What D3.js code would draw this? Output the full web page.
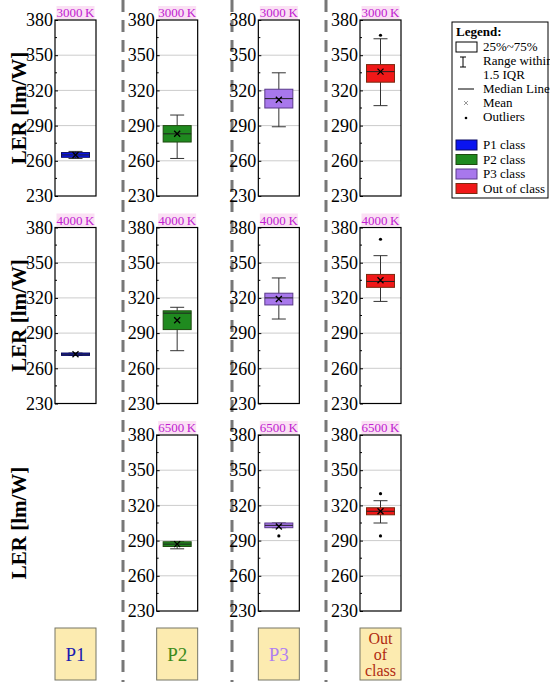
<!DOCTYPE html>
<html><head><meta charset="utf-8">
<script src="https://cdn.jsdelivr.net/npm/d3@7"></script>
<style>body{margin:0;background:#fff}svg text{font-family:"Liberation Serif","Times New Roman","DejaVu Serif",serif !important}</style>
</head><body><svg width="550" height="682"></svg>
<script>
var classes = ['P1', 'P2', 'P3', 'Out of class'];
var temps = ['3000 K', '4000 K', '6500 K'];
var yTicks = [230, 260, 290, 320, 350, 380];
var fillColors = ['#0a14f0', '#1f8a1f', '#a878ec', '#f01818'];
var edgeColors = ['#0a0a60', '#1f4a10', '#5a3a8a', '#7a2a10'];
var labelColors = ['#1a1ab0', '#3a8a1a', '#b080f0', '#b02a10'];

// [temp][class] = [whiskerLow, q1, median, q3, whiskerHigh, mean] or null
var stats = [
  [[262, 263, 265, 267, 268, 265], [262, 276, 283, 290, 299, 283], [289, 305, 313, 321, 335, 312], [307, 327, 336, 342, 364, 336]],
  [[271, 271, 272, 273, 273, 272], [275, 293, 307, 309, 312, 301], [302, 314, 320, 324, 337, 319], [317, 329, 334, 340, 356, 335]],
  [null, [283, 285, 287, 289, 289, 287], [301, 301, 303, 305, 305, 302], [305, 312, 315, 318, 324, 315]]
];
var outliers = [
  [[], [], [], [367]],
  [[], [], [], [370]],
  [[], [], [294], [330, 294]]
];

var svg = d3.select('svg');
var colX = d3.scalePoint().domain(classes).range([55, 360]);
var rowTop = d3.scalePoint().domain(temps).range([20, 435]);
var panelW = 41, panelH = 176;

// dashed separators
[123, 232, 326].forEach(function (x) {
  svg.append('line').attr('x1', x).attr('x2', x).attr('y1', 0).attr('y2', 682)
    .attr('stroke', '#777').attr('stroke-width', 3).attr('stroke-dasharray', '12,8');
});

temps.forEach(function (t, ti) {
  var top = rowTop(t);
  var y = d3.scaleLinear().domain([230, 380]).range([top + panelH, top]);
  svg.append('text').attr('transform', 'translate(26,' + (top + panelH / 2) + ') rotate(-90)')
    .attr('text-anchor', 'middle').attr('font-size', 21).attr('font-weight', 'bold').text('LER [lm/W]');
  classes.forEach(function (c, ci) {
    var s = stats[ti][ci];
    if (!s) return;
    var x0 = colX(c), cx = x0 + panelW / 2;
    var g = svg.append('g');
    g.selectAll('.grid').data([260, 290, 320, 350]).enter().append('line')
      .attr('x1', x0).attr('x2', x0 + panelW).attr('y1', y).attr('y2', y)
      .attr('stroke', '#ccc').attr('stroke-width', 1);
    g.append('g').attr('transform', 'translate(' + x0 + ',0)')
      .call(d3.axisLeft(y).tickValues(yTicks).tickSize(-3).tickPadding(2))
      .call(function (a) {
        a.select('.domain').remove();
        a.selectAll('text').attr('font-size', 18);
      });
    g.selectAll('.minor').data([245, 275, 305, 335, 365]).enter().append('line')
      .attr('x1', x0).attr('x2', x0 + 2).attr('y1', y).attr('y2', y).attr('stroke', '#000');
    g.append('rect').attr('x', x0).attr('y', top).attr('width', panelW).attr('height', panelH)
      .attr('fill', 'none').attr('stroke', '#000').attr('stroke-width', 1.2);
    g.append('rect').attr('x', cx - 19).attr('y', top - 14).attr('width', 38).attr('height', 13).attr('fill', '#fbe0f4');
    g.append('text').attr('x', cx).attr('y', top - 3).attr('text-anchor', 'middle')
      .attr('font-size', 13).attr('fill', '#c020d0').text(t.replace(' ', '\u2009'));
    var bw = 28;
    g.append('line').attr('x1', cx).attr('x2', cx).attr('y1', y(s[0])).attr('y2', y(s[4])).attr('stroke', '#333');
    [s[0], s[4]].forEach(function (v) {
      g.append('line').attr('x1', cx - 7).attr('x2', cx + 7).attr('y1', y(v)).attr('y2', y(v)).attr('stroke', '#333');
    });
    g.append('rect').attr('x', cx - bw / 2).attr('y', y(s[3])).attr('width', bw)
      .attr('height', Math.max(2, y(s[1]) - y(s[3])))
      .attr('fill', fillColors[ci]).attr('stroke', edgeColors[ci]).attr('stroke-width', 1);
    g.append('line').attr('x1', cx - bw / 2).attr('x2', cx + bw / 2).attr('y1', y(s[2])).attr('y2', y(s[2])).attr('stroke', '#222');
    g.append('path').attr('transform', 'translate(' + cx + ',' + y(s[5]) + ')')
      .attr('d', 'M-3,-3L3,3M-3,3L3,-3').attr('stroke', '#000').attr('stroke-width', 1.3);
    g.selectAll('.out').data(outliers[ti][ci]).enter().append('circle')
      .attr('cx', cx).attr('cy', y).attr('r', 1.6).attr('fill', '#000');
  });
});

// class labels at bottom
classes.forEach(function (c, ci) {
  var x0 = colX(c);
  svg.append('rect').attr('x', x0).attr('y', 628).attr('width', panelW).attr('height', 52)
    .attr('fill', '#fcebb0').attr('stroke', '#776').attr('stroke-width', 1);
  var lines = c === 'Out of class' ? ['Out', 'of', 'class'] : [c];
  lines.forEach(function (l, li) {
    svg.append('text').attr('x', x0 + panelW / 2)
      .attr('y', lines.length === 1 ? 661 : 644 + li * 16)
      .attr('text-anchor', 'middle').attr('font-size', lines.length === 1 ? 19 : 16)
      .attr('fill', labelColors[ci]).text(l);
  });
});

// legend
var lg = svg.append('g').attr('transform', 'translate(452,22)');
lg.append('rect').attr('width', 96).attr('height', 176).attr('fill', '#fff').attr('stroke', '#000');
lg.append('text').attr('x', 4).attr('y', 14).attr('font-size', 13).attr('font-weight', 'bold').text('Legend:');
lg.append('rect').attr('x', 4).attr('y', 20).attr('width', 21).attr('height', 10).attr('fill', 'none').attr('stroke', '#000');
var legItems = [['25%~75%', 29], ['Range within', 43], ['1.5 IQR', 57], ['Median Line', 71], ['Mean', 85], ['Outliers', 99]];
legItems.forEach(function (d) {
  lg.append('text').attr('x', 31).attr('y', d[1]).attr('font-size', 13).text(d[0]);
});
lg.append('path').attr('d', 'M11,35V45M8,35H14M8,45H14').attr('stroke', '#000').attr('fill', 'none');
lg.append('line').attr('x1', 6).attr('x2', 22).attr('y1', 67).attr('y2', 67).attr('stroke', '#000');
lg.append('path').attr('d', 'M12,79L16,83M12,83L16,79').attr('stroke', '#999');
lg.append('circle').attr('cx', 14).attr('cy', 96).attr('r', 1.3);
classes.forEach(function (c, ci) {
  var yy = 118 + ci * 14.5;
  lg.append('rect').attr('x', 4).attr('y', yy).attr('width', 21).attr('height', 10)
    .attr('fill', fillColors[ci]).attr('stroke', edgeColors[ci]);
  lg.append('text').attr('x', 31).attr('y', yy + 9).attr('font-size', 13).text(c === 'Out of class' ? c : c + ' class');
});
</script></body></html>
